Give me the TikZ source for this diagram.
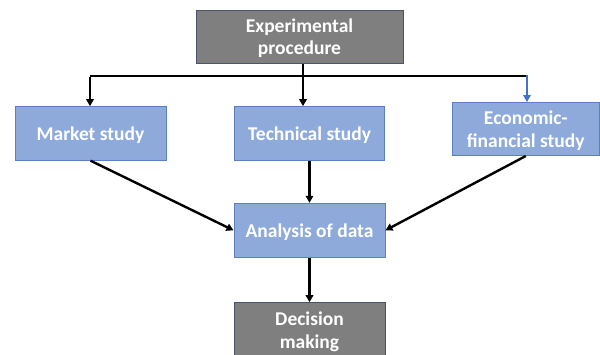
\documentclass[tikz,border=0pt]{standalone}
\usepackage{fontspec}
\setmainfont{Carlito}
\usetikzlibrary{arrows.meta}
\definecolor{boxblue}{HTML}{8EAADB}
\definecolor{boxblueedge}{HTML}{5B7FC0}
\definecolor{boxgray}{HTML}{7F7F7F}
\definecolor{boxgrayedge}{HTML}{4A5568}
\definecolor{arrblue}{HTML}{4472C4}
\newcommand\boxlbl[1]{\raisebox{-2.5pt}[\height][\depth]{\begin{tabular}{@{}c@{}}#1\end{tabular}}}
\tikzset{
  boxtext/.style={text=white, font=\fontsize{19.5}{22.5}\selectfont\bfseries, inner sep=0pt},
  bluebox/.style={draw=boxblueedge, line width=1pt, fill=boxblue, boxtext},
  graybox/.style={draw=boxgrayedge, line width=1pt, fill=boxgray, boxtext},
  conn/.style={line width=2.4pt, black},
  arr/.style={conn, -{Triangle[length=7pt,width=7.5pt]}},
}
\begin{document}
\begin{tikzpicture}[x=1pt,y=-1pt]
\useasboundingbox (0,0) rectangle (600,354);
\node[graybox, minimum width=207pt, minimum height=53pt] (exp) at (299.5,36.5) {\boxlbl{Experimental\\procedure}};
\node[bluebox, minimum width=151pt, minimum height=53.5pt] (market) at (90.5,133.4) {\boxlbl{Market study}};
\node[bluebox, minimum width=150pt, minimum height=53.5pt] (tech) at (309.5,133.4) {\boxlbl{Technical study}};
\node[bluebox, minimum width=146.5pt, minimum height=53pt] (econ) at (525.75,129) {\boxlbl{Economic-\\financial study}};
\node[bluebox, minimum width=151pt, minimum height=54pt] (anal) at (309.5,230.3) {\boxlbl{Analysis of data}};
\node[graybox, minimum width=151pt, minimum height=54.3pt] (dec) at (309.5,329.85) {\boxlbl{Decision\\making}};
\coordinate (jl) at (90,76);
\coordinate (jr) at (527,76);
\draw[conn] (jl) -- (jr);
\draw[arr] ([yshift=-1.2pt]jl) -- (jl |- market.north);
\draw[arr] ([xshift=3.5pt]exp.south) -- ([xshift=3.5pt]exp.south |- tech.north);
\draw[line width=2.4pt, arrblue, -{Triangle[length=7pt,width=7.5pt]}] ([yshift=1.2pt]jr) -- (jr |- econ.north);
\draw[arr] (market.south) -- (anal.west);
\draw[arr] (tech.south) -- (anal.north);
\draw[arr] (econ.south) -- (anal.east);
\draw[arr] (anal.south) -- (dec.north);
\end{tikzpicture}
\end{document}
